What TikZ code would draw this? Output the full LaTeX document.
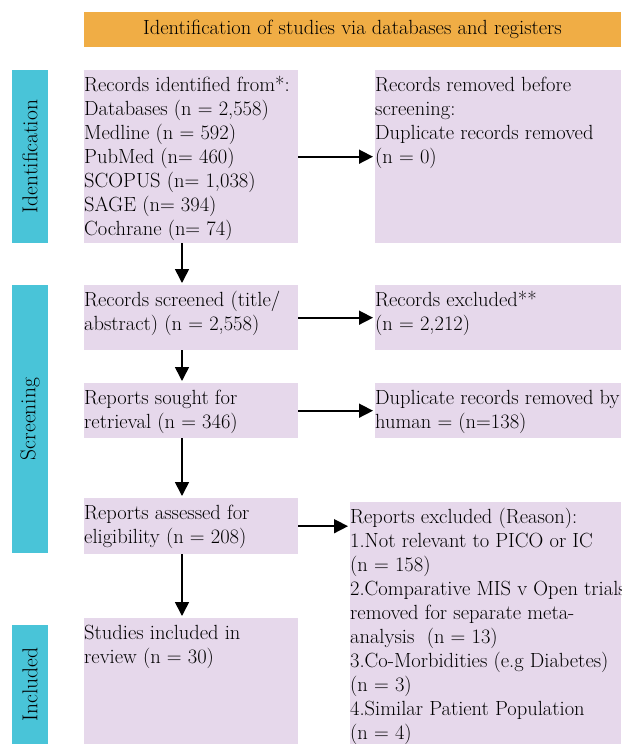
\documentclass[tikz,border=0pt]{standalone}
\usetikzlibrary{arrows.meta}

\definecolor{headorange}{HTML}{F0AD45}
\definecolor{barblue}{HTML}{49C4D8}
\definecolor{boxlilac}{HTML}{E6D8EB}

% top-aligned text block of fixed size
\newcommand{\boxtext}[3]{\begin{minipage}[t][#2][t]{#1}\raggedright\rule{0pt}{21pt}#3\end{minipage}}

\tikzset{
	stage/.style={fill=boxlilac, inner sep=0pt, anchor=north west},
	sidebar/.style={fill=barblue, rotate=90, inner sep=0pt, minimum height=36pt},
	flow/.style={line width=1.6pt, -{Triangle[length=14pt,width=14pt]}, shorten >=2pt}
}

\begin{document}
\begin{tikzpicture}[x=1pt, y=-1pt, every node/.style={font=\fontsize{20.5}{24}\selectfont}]
	\useasboundingbox (0,0) rectangle (621,744);

	\node[fill=headorange, minimum width=537pt, minimum height=35pt, inner sep=0pt] (head) at (352.5,29.5)
		{Identification of studies via databases and registers};

	\foreach \y/\h/\t in {156.5/173/Identification, 419/268/Screening, 684.5/119/Included}
		\node[sidebar, minimum width=\h pt, font=\fontsize{21.5}{24}\selectfont] (bar\t) at (30,\y) {\t};

	% left column
	\node[stage] (records) at (84,70) {\boxtext{214pt}{173pt}{Records identified from*:\\
		Databases (n = 2,558)\\ Medline (n = 592)\\ PubMed (n= 460)\\ SCOPUS (n= 1,038)\\
		SAGE (n= 394)\\ Cochrane (n= 74)}};
	\node[stage] (screened) at (84,285) {\boxtext{214pt}{65pt}{Records screened (title/\\ abstract) (n = 2,558)}};
	\node[stage] (sought) at (84,383) {\boxtext{214pt}{55pt}{Reports sought for\\ retrieval (n = 346)}};
	\node[stage] (assessed) at (84,498) {\boxtext{214pt}{56pt}{Reports assessed for\\ eligibility (n = 208)}};
	\node[stage] (included) at (84,618) {\boxtext{214pt}{126pt}{Studies included in\\ review (n = 30)}};

	% right column
	\node[stage] (removed) at (375,70) {\boxtext{246pt}{173pt}{Records removed before\\ screening:\\
		Duplicate records removed\\ (n = 0)}};
	\node[stage] (excluded) at (375,285) {\boxtext{246pt}{65pt}{Records excluded**\\ (n = 2,212)}};
	\node[stage] (duplicate) at (375,383) {\boxtext{246pt}{55pt}{\mbox{Duplicate records removed by}\\ human = (n=138)}};
	\node[stage] (reasons) at (350,502) {\boxtext{271pt}{242pt}{Reports excluded (Reason):\\
		1.Not relevant to PICO or IC\\ (n = 158)\\ \mbox{2.Comparative MIS v Open trials}\\
		removed for separate meta-\\ analysis~ (n = 13)\\ \mbox{3.Co-Morbidities (e.g Diabetes)}\\
		(n = 3)\\ 4.Similar Patient Population\\ (n = 4)}};

	\coordinate (axis) at (182,0);
	\draw[flow] (records.south -| axis) -- (screened.north -| axis);
	\draw[flow] (screened.south -| axis) -- (sought.north -| axis);
	\draw[flow] (sought.south -| axis) -- (assessed.north -| axis);
	\draw[flow] (assessed.south -| axis) -- (included.north -| axis);

	\draw[flow] (records.east) -- (records.east -| removed.west);
	\draw[flow] (screened.east) -- (screened.east -| excluded.west);
	\draw[flow] (sought.east) -- (sought.east -| duplicate.west);
	\draw[flow] (assessed.east) -- (assessed.east -| reasons.west);
\end{tikzpicture}
\end{document}
